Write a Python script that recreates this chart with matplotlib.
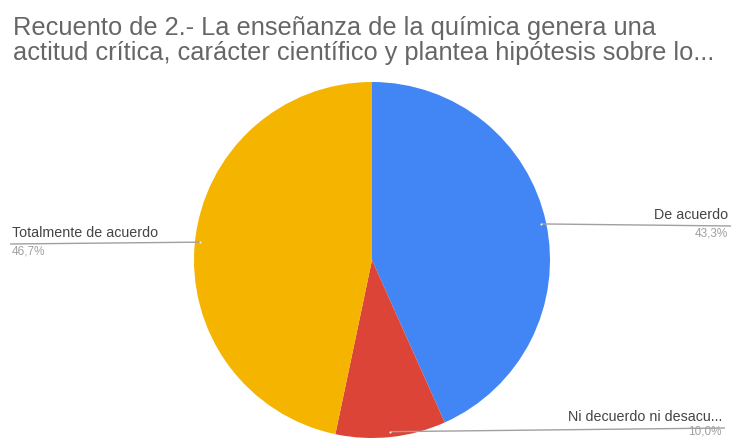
import numpy as np
import matplotlib
matplotlib.use('Agg')
import matplotlib.pyplot as plt

plt.rcParams['font.family'] = ['Liberation Sans', 'DejaVu Sans']

# Datos del grafico
categorias = ['De acuerdo', 'Ni decuerdo ni desacu...', 'Totalmente de acuerdo']
porcentajes = [43.3, 10.0, 46.7]
etiquetas_pct = ['43,3%', '10,0%', '46,7%']
colores = ['#4285F4', '#DB4437', '#F4B400']
titulo = ['Recuento de 2.- La enseñanza de la química genera una',
          'actitud crítica, carácter científico y plantea hipótesis sobre lo...']

W, H = 732, 438
fig = plt.figure(figsize=(W / 100, H / 100), dpi=100)
ax = fig.add_axes([0, 0, 1, 1])

cx, cy, r = 372, H - 260, 178
ax.pie(porcentajes, colors=colores, startangle=90, counterclock=False,
       center=(cx, cy), radius=r, frame=True,
       wedgeprops={'linewidth': 0})
ax.set_xlim(0, W)
ax.set_ylim(0, H)
ax.set_aspect('equal')
ax.axis('off')

# titulo en dos lineas (baselines en pixeles desde arriba)
for linea, base in zip(titulo, [35, 60]):
    ax.text(13, H - base, linea, ha='left', va='baseline', fontsize=18.3,
            color='#666666')

# Etiquetas con lineas guia: (x texto, y linea desde arriba, lado)
pos_etiquetas = [(728, 226, 'right'), (722, 428, 'right'), (12, 244, 'left')]
acum = 0
for cat, p, pct, (tx, ty, lado) in zip(categorias, porcentajes, etiquetas_pct, pos_etiquetas):
    medio = (acum + p / 2) / 100 * 2 * np.pi
    acum += p
    px = cx + r * 0.97 * np.sin(medio)
    py = cy + r * 0.97 * np.cos(medio)
    ly = H - ty
    if lado == 'right':
        ax.plot([px, tx + 3], [py, ly], color='#a0a0a0', lw=1.0, solid_capstyle='butt')
    else:
        ax.plot([tx - 2, px], [ly, py], color='#a0a0a0', lw=1.0, solid_capstyle='butt')
    ax.plot([px], [py], 'o', ms=1.5, color='#f0f0f0', mew=0)
    ax.text(tx, ly + 4, cat, ha=lado, va='bottom', fontsize=10.3, color='#444444')
    if ty > 420:
        ax.text(tx, 1, pct, ha=lado, va='bottom', fontsize=8.5, color='#a0a0a0')
    else:
        ax.text(tx, ly - 2, pct, ha=lado, va='top', fontsize=8.5, color='#a0a0a0')

fig.savefig('out.png', dpi=100, facecolor='white')
